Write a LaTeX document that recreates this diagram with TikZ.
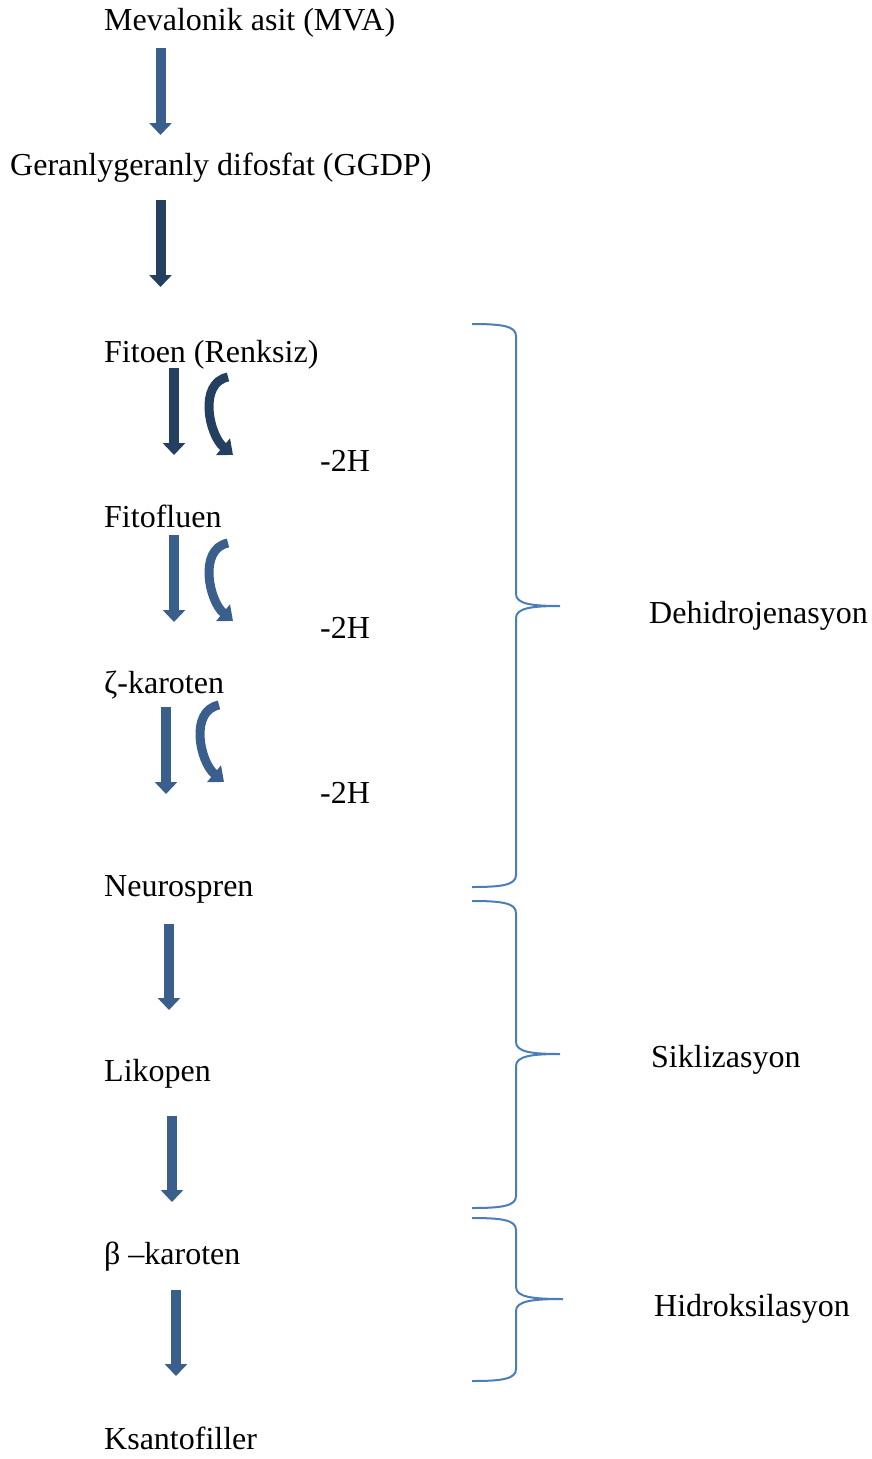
\documentclass[tikz,border=0pt]{standalone}
\usepackage{fontspec}
\setmainfont{Liberation Serif}
\usetikzlibrary{arrows.meta}
\definecolor{navy}{HTML}{243F60}
\definecolor{steel}{HTML}{3A5F8D}
\definecolor{bracec}{HTML}{4A7EBB}
\tikzset{
  lbl/.style={anchor=base west, inner sep=0pt, font=\fontsize{32}{38}\selectfont},
  blockarrow/.style={line width=10pt, -{Triangle[width=22pt,length=12pt]}},
  curvearrow/.style={line width=9pt, -{Triangle[width=21pt,length=13pt]}},
  bracepath/.style={draw=bracec, line width=2pt}
}
\begin{document}
\begin{tikzpicture}[x=1pt,y=-1pt]
\useasboundingbox (0,0) rectangle (871,1459);
% labels
\node[lbl] (mva) at (104,30) {Mevalonik asit (MVA)};
\node[lbl] (ggdp) at (10,175) {Geranlygeranly difosfat (GGDP)};
\node[lbl] (fitoen) at (104,362) {Fitoen (Renksiz)};
\node[lbl] (h1) at (320,471) {-2H};
\node[lbl] (fitofluen) at (104,527) {Fitofluen};
\node[lbl] (h2) at (320,638) {-2H};
\node[lbl] (zeta) at (104,693) {ζ-karoten};
\node[lbl] (h3) at (320,803) {-2H};
\node[lbl] (neuro) at (104,896) {Neurospren};
\node[lbl] (liko) at (104,1081) {Likopen};
\node[lbl] (beta) at (104,1264) {β –karoten};
\node[lbl] (ksanto) at (104,1449) {Ksantofiller};
\node[lbl] (dehi) at (649,623) {Dehidrojenasyon};
\node[lbl] (sikli) at (651,1067) {Siklizasyon};
\node[lbl] (hidro) at (654,1316) {Hidroksilasyon};
% arrow coordinates
\coordinate (a1s) at (160.5,48);  \coordinate (a1e) at (160.5,135);
\coordinate (a2s) at (160.5,200); \coordinate (a2e) at (160.5,287);
\coordinate (a3s) at (174,368);   \coordinate (a3e) at (174,455);
\coordinate (a4s) at (174,535);   \coordinate (a4e) at (174,622);
\coordinate (a5s) at (166,707);   \coordinate (a5e) at (166,794);
\coordinate (a6s) at (169,924);   \coordinate (a6e) at (169,1010);
\coordinate (a7s) at (172,1116);  \coordinate (a7e) at (172,1202);
\coordinate (a8s) at (176,1290);  \coordinate (a8e) at (176,1376);
\draw[blockarrow, steel] (a1s) -- (a1e);
\draw[blockarrow, navy] (a2s) -- (a2e);
\draw[blockarrow, navy] (a3s) -- (a3e);
\draw[blockarrow, steel] (a4s) -- (a4e);
\draw[blockarrow, steel] (a5s) -- (a5e);
\draw[blockarrow, steel] (a6s) -- (a6e);
\draw[blockarrow, steel] (a7s) -- (a7e);
\draw[blockarrow, steel] (a8s) -- (a8e);
% curved arrows
\coordinate (c1s) at (228,377); \coordinate (c1e) at (233,455);
\coordinate (c2s) at (228,543); \coordinate (c2e) at (233,621);
\coordinate (c3s) at (219,705); \coordinate (c3e) at (224,782);
\draw[curvearrow, navy] (c1s) .. controls +(-30,6) and +(-24,-20) .. (c1e);
\draw[curvearrow, steel] (c2s) .. controls +(-30,6) and +(-24,-20) .. (c2e);
\draw[curvearrow, steel] (c3s) .. controls +(-30,6) and +(-24,-20) .. (c3e);
% braces (left ends, tip, right ends)
\foreach \T/\M/\B/\X in {324/606/887/560, 901/1054/1208/560, 1218/1299/1381/563}{
  \draw[bracepath]
    (472,\T) .. controls (502,\T) and (516,{\T+2}) .. (516,{\T+12})
    -- (516,{\M-12}) .. controls (516,{\M-2}) and (532,\M) .. (\X,\M)
    .. controls (532,\M) and (516,{\M+2}) .. (516,{\M+12})
    -- (516,{\B-12}) .. controls (516,{\B-2}) and (502,\B) .. (472,\B);
}
\end{tikzpicture}
\end{document}
